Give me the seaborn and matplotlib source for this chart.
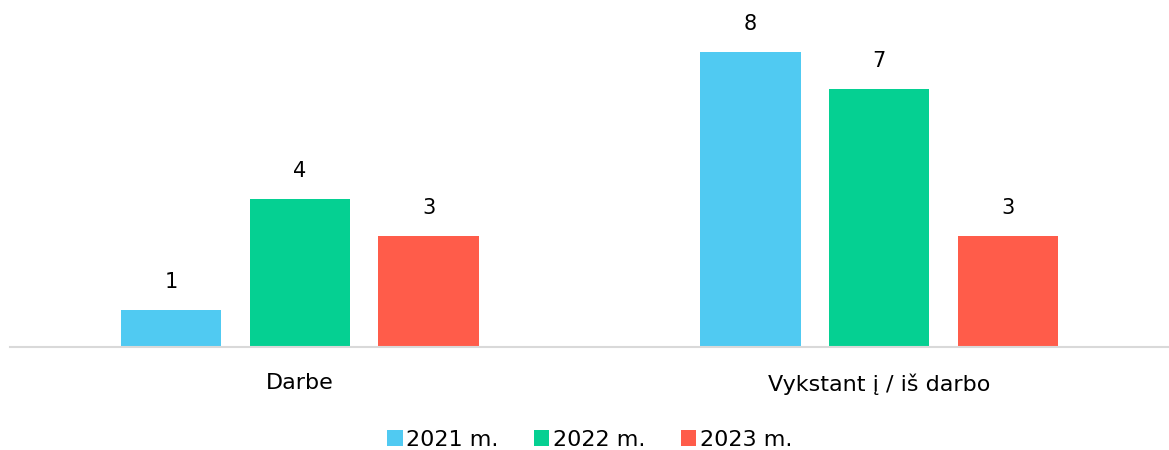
import pandas as pd
import matplotlib.pyplot as plt
import seaborn as sns

# data
categories = ['Darbe', 'Vykstant į / iš darbo']
years = ['2021 m.', '2022 m.', '2023 m.']
v2021 = [1, 8]
v2022 = [4, 7]
v2023 = [3, 3]
colors = ['#50CAF2', '#05D092', '#FF5C4A']

df = pd.DataFrame({
    'category': categories * 3,
    'year': [years[0]] * 2 + [years[1]] * 2 + [years[2]] * 2,
    'value': v2021 + v2022 + v2023,
})

sns.set_style('white')
plt.rcParams['font.family'] = ['DejaVu Sans']

fig = plt.figure(figsize=(11.69, 4.5), dpi=100)
ax = fig.add_axes([10 / 1169, 103 / 450, 1159 / 1169, 332 / 450])

sns.barplot(data=df, x='category', y='value', hue='year', palette=colors,
            width=0.667, gap=0.22, ax=ax, saturation=1, edgecolor='none')

# value labels
for cont in ax.containers:
    ax.bar_label(cont, padding=13, fontsize=15, color='#000000')

ax.set_xlim(-0.5, 1.5)
ax.set_ylim(0, 9)
ax.set_yticks([])
ax.set_xlabel('')
ax.set_ylabel('')
ax.tick_params(axis='x', length=0, labelsize=16, pad=19, colors='#000000')
for s in ['top', 'right', 'left']:
    ax.spines[s].set_visible(False)
ax.spines['bottom'].set_color('#D9D9D9')
ax.spines['bottom'].set_linewidth(1.5)

leg = ax.legend(loc='lower center', bbox_to_anchor=(0.5, -0.37), ncol=3,
                frameon=False, fontsize=16, handlelength=0.7, handleheight=0.7,
                handletextpad=0.15, columnspacing=1.6)
for t in leg.get_texts():
    t.set_color('#000000')

plt.savefig('out.png', dpi=100)
